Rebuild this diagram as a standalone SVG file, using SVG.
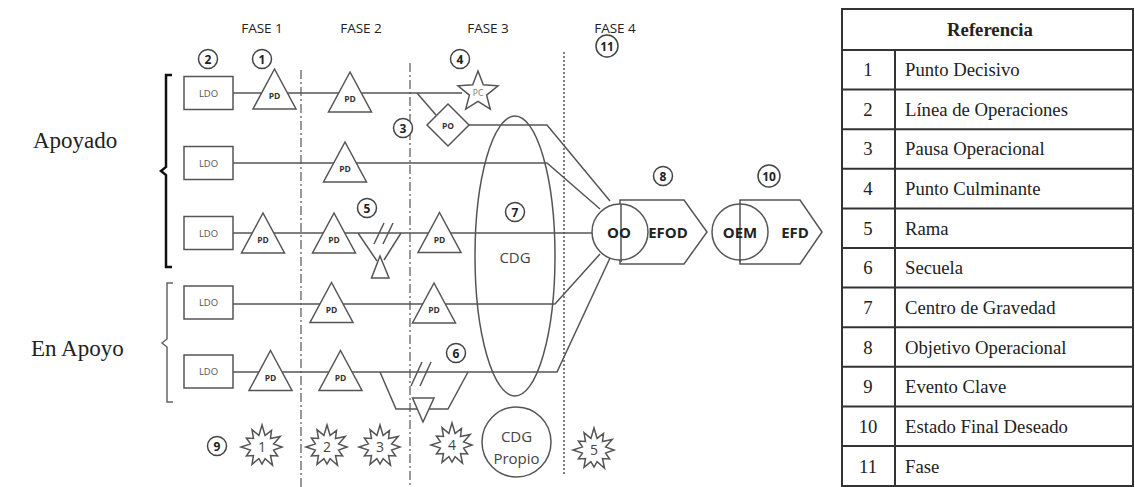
<svg xmlns="http://www.w3.org/2000/svg" xmlns:xlink="http://www.w3.org/1999/xlink" width="1135" height="487" viewBox="0 0 1135 487">
<style>
.ln{fill:none;stroke:#555;stroke-width:1.5}
.sh{fill:#fff;stroke:#555;stroke-width:1.5}
.sep1{fill:none;stroke:#555;stroke-width:1.2;stroke-dasharray:9 3 2 3}
.sep2{fill:none;stroke:#555;stroke-width:1.5;stroke-dasharray:2 2}
.fase{font-family:"Open Sans","DejaVu Sans",sans-serif;font-size:13.5px;fill:#222;text-anchor:middle}
.ldo{font-family:"Open Sans","DejaVu Sans",sans-serif;font-size:9.5px;fill:#555;text-anchor:middle}
.pd{font-family:"Open Sans","DejaVu Sans",sans-serif;font-size:8.5px;font-weight:bold;fill:#333;text-anchor:middle}
.num{font-family:"Open Sans","DejaVu Sans",sans-serif;font-size:12px;font-weight:bold;fill:#222;text-anchor:middle}
.nc{fill:#fff;stroke:#444;stroke-width:1.5}
.big{font-family:"Open Sans","DejaVu Sans",sans-serif;font-size:15px;font-weight:bold;fill:#222;text-anchor:middle}
.reg{font-family:"Open Sans","DejaVu Sans",sans-serif;font-size:15px;fill:#444;text-anchor:middle}
.ev{font-family:"Open Sans","DejaVu Sans",sans-serif;font-size:14px;fill:#444;text-anchor:middle}
.side{font-family:"Liberation Serif","Times New Roman",serif;font-size:23px;fill:#222}
.tb{font-family:"Liberation Serif","Times New Roman",serif;font-size:18.7px;fill:#222}
.tbl{fill:none;stroke:#333;stroke-width:2}
</style>
<defs>
<polygon id="tri" points="0,-20 -21.5,20 21.5,20"/>
<polygon id="burst" points="20,0 11.6,3.1 15.6,9 8.5,8.5 10.5,18.2 3.1,11.6 0,17 -3.1,11.6 -10,17.3 -8.5,8.5 -15.6,9 -11.6,3.1 -21,0 -11.6,-3.1 -15.6,-9 -8.5,-8.5 -10,-17.3 -3.1,-11.6 0,-22 3.1,-11.6 9.5,-16.5 8.5,-8.5 18.2,-10.5 11.6,-3.1"/>
</defs>
<rect width="1135" height="487" fill="#fff"/>

<!-- phase separators -->
<g id="separators">
<line class="sep1" x1="301" y1="70" x2="301" y2="487"/>
<line class="sep1" x1="410" y1="63" x2="410" y2="487"/>
<line class="sep2" x1="564" y1="52" x2="564" y2="475"/>
</g>

<!-- phase labels -->
<g id="fases">
<text class="fase" x="262" y="33">FASE 1</text>
<text class="fase" x="361" y="33">FASE 2</text>
<text class="fase" x="488" y="33">FASE 3</text>
<text class="fase" x="615" y="33">FASE 4</text>
</g>

<!-- side labels and brackets -->
<g id="apoyado">
<text class="side" x="33" y="148">Apoyado</text>
<path d="M172,75 H166 V167 L161,171 L166,175 V267 H172" fill="none" stroke="#111" stroke-width="2.5"/>
</g>
<g id="en-apoyo">
<text class="side" x="31" y="356">En Apoyo</text>
<path d="M173,283 H167 V339 L162,343 L167,347 V402 H173" fill="none" stroke="#666" stroke-width="1.5"/>
</g>

<!-- connectors -->
<g id="connectors">
<line class="ln" x1="233" y1="93" x2="462" y2="93"/>
<line class="ln" x1="417" y1="93" x2="436" y2="115"/>
<polyline class="ln" points="469,125 547,125 610,201"/>
<polyline class="ln" points="233,163 547,163 600,209"/>
<line class="ln" x1="233" y1="233" x2="593" y2="233"/>
<polyline class="ln" points="233,304 555,304 600,254"/>
<polyline class="ln" points="233,372 557,372 610,258"/>
<!-- rama (branch) row 3 -->
<line class="ln" x1="358" y1="233" x2="377" y2="261"/>
<line class="ln" x1="401" y1="233" x2="384" y2="260"/>
<line class="ln" x1="374" y1="244" x2="384" y2="223"/>
<line class="ln" x1="383" y1="244" x2="393" y2="223"/>
<!-- secuela row 5 -->
<polyline class="ln" points="380,372 396,409 448,409 468,372"/>
<line class="ln" x1="411" y1="386" x2="422" y2="362"/>
<line class="ln" x1="420" y1="386" x2="431" y2="362"/>
</g>

<!-- CDG ellipse -->
<g id="cdg">
<ellipse cx="515" cy="256" rx="40" ry="140" fill="none" stroke="#555" stroke-width="1.5"/>
<text class="reg" x="515" y="263">CDG</text>
</g>

<!-- LDO boxes -->
<g id="ldo1"><rect class="sh" x="184" y="76.5" width="49" height="33"/><text class="ldo" x="208.5" y="96.5">LDO</text></g>
<g id="ldo2"><rect class="sh" x="184" y="146.5" width="49" height="33"/><text class="ldo" x="208.5" y="166.5">LDO</text></g>
<g id="ldo3"><rect class="sh" x="184" y="216.5" width="49" height="33"/><text class="ldo" x="208.5" y="236.5">LDO</text></g>
<g id="ldo4"><rect class="sh" x="184" y="286" width="49" height="33"/><text class="ldo" x="208.5" y="306">LDO</text></g>
<g id="ldo5"><rect class="sh" x="184" y="355" width="49" height="33"/><text class="ldo" x="208.5" y="375">LDO</text></g>

<!-- PD triangles -->
<g id="pd-1-1" transform="translate(274.5,89)"><use xlink:href="#tri" class="sh"/><text class="pd" y="10">PD</text></g>
<g id="pd-1-2" transform="translate(350,92)"><use xlink:href="#tri" class="sh"/><text class="pd" y="10">PD</text></g>
<g id="pd-2-1" transform="translate(345,162)"><use xlink:href="#tri" class="sh"/><text class="pd" y="10">PD</text></g>
<g id="pd-3-1" transform="translate(263,233)"><use xlink:href="#tri" class="sh"/><text class="pd" y="10">PD</text></g>
<g id="pd-3-2" transform="translate(334,233)"><use xlink:href="#tri" class="sh"/><text class="pd" y="10">PD</text></g>
<g id="pd-3-3" transform="translate(439.5,232.5)"><use xlink:href="#tri" class="sh"/><text class="pd" y="10">PD</text></g>
<g id="pd-4-1" transform="translate(331.5,302.5)"><use xlink:href="#tri" class="sh"/><text class="pd" y="10">PD</text></g>
<g id="pd-4-2" transform="translate(434,303)"><use xlink:href="#tri" class="sh"/><text class="pd" y="10">PD</text></g>
<g id="pd-5-1" transform="translate(270.5,370.5)"><use xlink:href="#tri" class="sh"/><text class="pd" y="10">PD</text></g>
<g id="pd-5-2" transform="translate(340.5,370.5)"><use xlink:href="#tri" class="sh"/><text class="pd" y="10">PD</text></g>

<!-- rama small triangle -->
<g id="rama-tri"><polygon class="sh" points="380,256 371.5,278 389,278"/></g>
<!-- secuela small triangle -->
<g id="secuela-tri"><polygon class="sh" points="412.5,398 434,398 423,422"/></g>

<!-- PC star -->
<g id="pc">
<polygon class="sh" points="478,71 483.3,84.7 498,85.8 486.6,95.1 490.3,109.2 478,101.3 465.7,109.2 469.4,95.1 458,85.8 472.7,84.7"/>
<text x="478" y="96" font-family="Open Sans, DejaVu Sans, sans-serif" font-size="8.5px" fill="#777" text-anchor="middle">PC</text>
</g>

<!-- PO diamond -->
<g id="po">
<polygon class="sh" points="448,104 469,125 448,146 427,125"/>
<text class="pd" x="448" y="128.5">PO</text>
</g>

<!-- OO / EFOD -->
<g id="oo-efod">
<polygon class="sh" points="620,200 684,200 707,232 684,264 620,264"/>
<circle cx="620" cy="232" r="28" class="sh"/>
<line class="ln" x1="621" y1="204" x2="621" y2="262"/>
<text class="big" x="619" y="237.5">OO</text>
<text class="big" x="668" y="237.5">EFOD</text>
</g>

<!-- OEM / EFD -->
<g id="oem-efd">
<polygon class="sh" points="740,200 800,200 822,232 800,264 740,264"/>
<circle cx="740" cy="232" r="28" class="sh"/>
<line class="ln" x1="740" y1="204" x2="740" y2="262"/>
<text class="big" x="740" y="237.5">OEM</text>
<text class="big" x="795" y="237.5">EFD</text>
</g>

<!-- CDG Propio -->
<g id="cdg-propio">
<ellipse cx="516.5" cy="442" rx="34.5" ry="35" fill="#fff" stroke="#555" stroke-width="1.5"/>
<text class="reg" x="516.5" y="442">CDG</text>
<text class="reg" x="516.5" y="464">Propio</text>
</g>

<!-- key events -->
<g id="ev1" transform="translate(262,447)"><use xlink:href="#burst" class="sh"/><text class="ev" y="5">1</text></g>
<g id="ev2" transform="translate(327,447)"><use xlink:href="#burst" class="sh"/><text class="ev" y="5">2</text></g>
<g id="ev3" transform="translate(380,447)"><use xlink:href="#burst" class="sh"/><text class="ev" y="5">3</text></g>
<g id="ev4" transform="translate(452,445)"><use xlink:href="#burst" class="sh"/><text class="ev" y="5">4</text></g>
<g id="ev5" transform="translate(594,450)"><use xlink:href="#burst" class="sh"/><text class="ev" y="5">5</text></g>

<!-- numbered markers -->
<g id="n1"><circle class="nc" cx="262" cy="59" r="9.5"/><text class="num" x="262" y="63.5">1</text></g>
<g id="n2"><circle class="nc" cx="208" cy="59" r="9.5"/><text class="num" x="208" y="63.5">2</text></g>
<g id="n3"><circle class="nc" cx="403" cy="128" r="9.5"/><text class="num" x="403" y="132.5">3</text></g>
<g id="n4"><circle class="nc" cx="460" cy="59" r="9.5"/><text class="num" x="460" y="63.5">4</text></g>
<g id="n5"><circle class="nc" cx="367" cy="208" r="9.5"/><text class="num" x="367" y="212.5">5</text></g>
<g id="n6"><circle class="nc" cx="456" cy="353" r="9.5"/><text class="num" x="456" y="357.5">6</text></g>
<g id="n7"><circle class="nc" cx="515" cy="212" r="9.5"/><text class="num" x="515" y="216.5">7</text></g>
<g id="n8"><circle class="nc" cx="663" cy="176" r="9.5"/><text class="num" x="663" y="180.5">8</text></g>
<g id="n9"><circle class="nc" cx="217" cy="446" r="9.5"/><text class="num" x="217" y="450.5">9</text></g>
<g id="n10"><circle class="nc" cx="769" cy="176" r="11"/><text class="num" x="769" y="180.5">10</text></g>
<g id="n11"><circle class="nc" cx="607" cy="46" r="11"/><text class="num" x="607" y="50.5">11</text></g>

<!-- reference table -->
<g id="tabla">
<rect class="tbl" x="842" y="9" width="291" height="477"/>
<line class="tbl" x1="842" y1="50" x2="1133" y2="50"/>
<line class="tbl" x1="895" y1="50" x2="895" y2="486"/>
<g class="tbl">
<line x1="842" y1="89.6" x2="1133" y2="89.6"/>
<line x1="842" y1="129.2" x2="1133" y2="129.2"/>
<line x1="842" y1="168.8" x2="1133" y2="168.8"/>
<line x1="842" y1="208.4" x2="1133" y2="208.4"/>
<line x1="842" y1="248" x2="1133" y2="248"/>
<line x1="842" y1="287.6" x2="1133" y2="287.6"/>
<line x1="842" y1="327.2" x2="1133" y2="327.2"/>
<line x1="842" y1="366.8" x2="1133" y2="366.8"/>
<line x1="842" y1="406.4" x2="1133" y2="406.4"/>
<line x1="842" y1="446" x2="1133" y2="446"/>
</g>
<text class="tb" x="990" y="36" font-weight="bold" font-size="18px" text-anchor="middle">Referencia</text>
<g text-anchor="middle">
<text class="tb" x="868" y="76">1</text>
<text class="tb" x="868" y="116">2</text>
<text class="tb" x="868" y="155">3</text>
<text class="tb" x="868" y="195">4</text>
<text class="tb" x="868" y="235">5</text>
<text class="tb" x="868" y="274">6</text>
<text class="tb" x="868" y="314">7</text>
<text class="tb" x="868" y="354">8</text>
<text class="tb" x="868" y="393">9</text>
<text class="tb" x="868" y="433">10</text>
<text class="tb" x="868" y="473">11</text>
</g>
<text class="tb" x="905" y="76">Punto Decisivo</text>
<text class="tb" x="905" y="116">Línea de Operaciones</text>
<text class="tb" x="905" y="155">Pausa Operacional</text>
<text class="tb" x="905" y="195">Punto Culminante</text>
<text class="tb" x="905" y="235">Rama</text>
<text class="tb" x="905" y="274">Secuela</text>
<text class="tb" x="905" y="314">Centro de Gravedad</text>
<text class="tb" x="905" y="354">Objetivo Operacional</text>
<text class="tb" x="905" y="393">Evento Clave</text>
<text class="tb" x="905" y="433">Estado Final Deseado</text>
<text class="tb" x="905" y="473">Fase</text>
</g>
</svg>
